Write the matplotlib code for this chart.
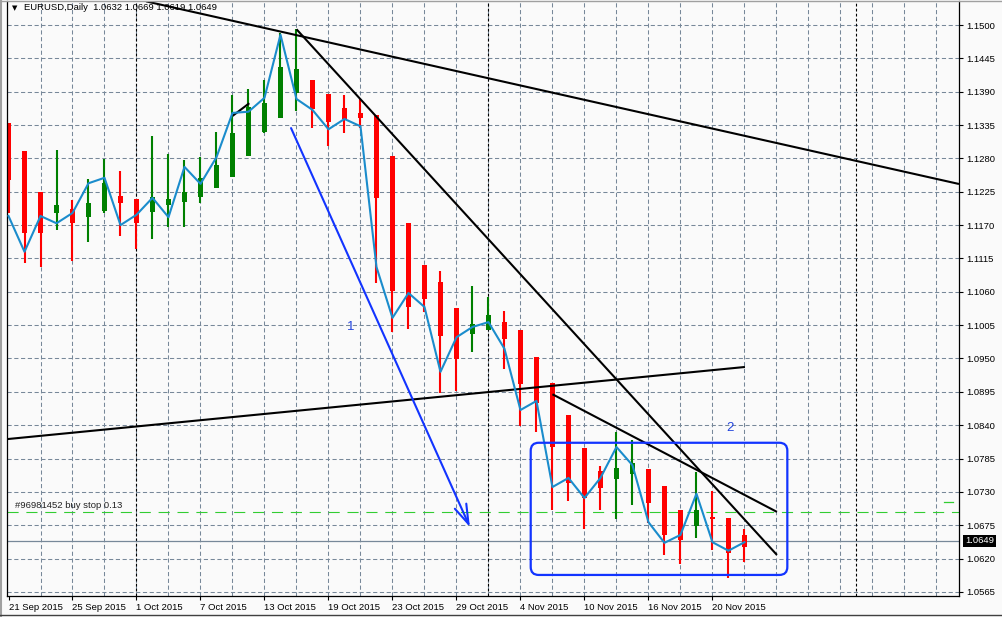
import matplotlib
matplotlib.use("Agg")
import matplotlib.pyplot as plt
import matplotlib.transforms as mtransforms
from matplotlib.patches import FancyBboxPatch

plt.rcParams["font.family"] = ["Liberation Sans", "DejaVu Sans"]

# --- data (EURUSD daily, one candle per trading day) ---
date_labels = ["21 Sep 2015", "25 Sep 2015", "1 Oct 2015", "7 Oct 2015", "13 Oct 2015",
               "19 Oct 2015", "23 Oct 2015", "29 Oct 2015", "4 Nov 2015", "10 Nov 2015",
               "16 Nov 2015", "20 Nov 2015"]
date_bars = [0, 4, 8, 12, 16, 20, 24, 28, 32, 36, 40, 44]

opens = [1.1338, 1.1292, 1.1225, 1.1190, 1.1197, 1.1183, 1.1193, 1.1218, 1.1213, 1.1192,
         1.1203, 1.1208, 1.1216, 1.1231, 1.1249, 1.1284, 1.1324, 1.1347, 1.1388, 1.1409,
         1.1386, 1.1363, 1.1355, 1.1352, 1.1284, 1.1173, 1.1104, 1.1076, 1.1033, 1.0990,
         1.0997, 1.1010, 1.0997, 1.0952, 1.0910, 1.0857, 1.0802, 1.0764, 1.0751, 1.0760,
         1.0768, 1.0740, 1.0700, 1.0674, 1.0689, 1.0687, 1.0659]
highs = [1.1338, 1.1292, 1.1225, 1.1294, 1.1211, 1.1246, 1.1279, 1.1259, 1.1213, 1.1317,
         1.1287, 1.1277, 1.1282, 1.1324, 1.1385, 1.1394, 1.1409, 1.1487, 1.1493, 1.1409,
         1.1386, 1.1385, 1.1378, 1.1352, 1.1284, 1.1173, 1.1104, 1.1094, 1.1033, 1.1070,
         1.1051, 1.1028, 1.0997, 1.0952, 1.0910, 1.0857, 1.0802, 1.0773, 1.0829, 1.0816,
         1.0768, 1.0740, 1.0700, 1.0763, 1.0731, 1.0687, 1.0669]
lows = [1.1190, 1.1108, 1.1101, 1.1162, 1.1111, 1.1142, 1.1190, 1.1152, 1.1131, 1.1147,
        1.1167, 1.1167, 1.1206, 1.1231, 1.1249, 1.1284, 1.1322, 1.1347, 1.1358, 1.1330,
        1.1300, 1.1322, 1.1330, 1.1075, 1.0994, 1.0999, 1.1027, 1.0893, 1.0896, 1.0961,
        1.0997, 1.0933, 1.0839, 1.0829, 1.0700, 1.0715, 1.0669, 1.0700, 1.0685, 1.0708,
        1.0679, 1.0626, 1.0611, 1.0654, 1.0634, 1.0588, 1.0614]
closes = [1.1244, 1.1157, 1.1157, 1.1203, 1.1173, 1.1206, 1.1239, 1.1206, 1.1173, 1.1216,
          1.1213, 1.1225, 1.1248, 1.1269, 1.1322, 1.1365, 1.1371, 1.1431, 1.1427, 1.1361,
          1.1340, 1.1345, 1.1347, 1.1215, 1.1061, 1.1035, 1.1048, 1.0987, 1.0949, 1.1007,
          1.1022, 1.0982, 1.0908, 1.0877, 1.0804, 1.0745, 1.0720, 1.0736, 1.0769, 1.0778,
          1.0712, 1.0659, 1.0651, 1.0700, 1.0685, 1.0629, 1.0639]
indicator = [1.1185, 1.1126, 1.1185, 1.1173, 1.1190, 1.1239, 1.1248, 1.1170, 1.1187, 1.1215,
             1.1183, 1.1266, 1.1238, 1.1282, 1.1355, 1.1357, 1.1380, 1.1484, 1.1378, 1.1360,
             1.1328, 1.1345, 1.1333, 1.1101, 1.1017, 1.1058, 1.1035, 1.0928, 1.0985, 1.1002,
             1.1010, 1.0966, 1.0865, 1.0880, 1.0738, 1.0753, 1.0720, 1.0753, 1.0804, 1.0774,
             1.0680, 1.0646, 1.0659, 1.0727, 1.0647, 1.0633, 1.0647]

price_ticks = [1.0565, 1.0620, 1.0675, 1.0730, 1.0785, 1.0840, 1.0895, 1.0950, 1.1005,
               1.1060, 1.1115, 1.1170, 1.1225, 1.1280, 1.1335, 1.1390, 1.1445, 1.1500]
month_starts = [8, 30, 53]
last_price = 1.0649
buy_stop = 1.0697

# trend lines drawn on the chart: (bar, price) pairs
long_line = [(8.6, 1.1539), (59.41, 1.12378)]
steep_line = [(18, 1.1493), (48.03, 1.0626)]
rising_line = [(-0.1, 1.0817), (46.03, 1.0936)]
falling_line = [(34, 1.0891), (48.03, 1.0697)]
short_line = [(14, 1.1350), (15.05, 1.1371)]
arrow_from = (17.66, 1.1330)
arrow_to = (28.84, 1.0672)
box_bars = (32.64, 48.68)
box_prices = (1.0593, 1.0811)

GRID = "#778899"
BLUE = "#1234ff"
FS = 6.8

fig = plt.figure(figsize=(10.02, 6.17), dpi=100, facecolor="#fafafa")
ax = fig.add_axes([7 / 1002, 21.5 / 617, 952 / 1002, 594.5 / 617], facecolor="#fafafa")
ax.set_xlim(-0.094, 59.41)
ax.set_ylim(1.05591, 1.15396)

# grid
for b in range(2, 60, 2):
    ax.axvline(b, color=GRID, lw=0.75, ls=(0, (4, 2.5)), zorder=0)
for p in price_ticks:
    ax.axhline(p, color=GRID, lw=0.75, ls=(0, (4, 2.5)), zorder=0)
for b in month_starts:
    ax.axvline(b, color="black", lw=0.8, ls=(0, (2.5, 2)), zorder=1)

# candles
for i, (o, h, l, c) in enumerate(zip(opens, highs, lows, closes)):
    col = "#008000" if c >= o else "#ff0000"
    ax.vlines(i, l, h, color=col, lw=1.5, zorder=2)
    ax.bar(i, max(abs(c - o), 0.00012), bottom=min(o, c), width=0.33, color=col,
           linewidth=0, zorder=2)

ax.plot(range(len(indicator)), indicator, color="#1a8ccc", lw=1.5, zorder=4)

ax.axhline(last_price, color=GRID, lw=0.9, zorder=1)
ax.axhline(buy_stop, color="#32cd32", lw=0.8, ls=(0, (10, 7)), zorder=1)
ax.plot([58.47, 59.03], [1.0714, 1.0714], color="#32cd32", lw=0.9, zorder=1)
ax.text(0.4, 1.0708, "#96981452 buy stop 0.13", fontsize=FS, va="center", ha="left",
        color="#222222", zorder=5)

for seg in (long_line, steep_line, rising_line, falling_line, short_line):
    ax.plot([seg[0][0], seg[1][0]], [seg[0][1], seg[1][1]], color="black", lw=1.5,
            zorder=3, solid_capstyle="butt")

ax.annotate("", xy=arrow_to, xytext=arrow_from,
            arrowprops=dict(arrowstyle="->,head_length=1.4,head_width=0.45", color=BLUE,
                            lw=1.5, shrinkA=0, shrinkB=0), zorder=5)

# rounded box, radius ~8 px in both directions
aspect = (0.0055 / 33.35) * 16
box = FancyBboxPatch((box_bars[0], box_prices[0]), box_bars[1] - box_bars[0],
                     box_prices[1] - box_prices[0],
                     boxstyle="round,pad=0,rounding_size=0.5", mutation_aspect=aspect,
                     fill=False, ec=BLUE, lw=1.6, zorder=5)
ax.add_patch(box)
ax.text(21.4, 1.1002, "1", color="#2244dd", fontsize=9.5, ha="center", va="center", zorder=5)
ax.text(45.1, 1.0835, "2", color="#2244dd", fontsize=9.5, ha="center", va="center", zorder=5)

# axes
for s in ("left", "right", "bottom"):
    ax.spines[s].set_color("black")
    ax.spines[s].set_linewidth(0.9)
ax.spines["top"].set_visible(False)
ax.yaxis.tick_right()
ax.set_yticks(price_ticks)
ax.set_yticklabels([f"{p:.4f}" for p in price_ticks])
ax.tick_params(axis="y", direction="out", length=3, width=0.8, pad=2, labelsize=FS,
               colors="black")
ax.set_xticks(date_bars)
ax.set_xticklabels(date_labels, ha="left")
ax.tick_params(axis="x", direction="out", length=3, width=0.8, pad=2.5, labelsize=FS)

trans = mtransforms.blended_transform_factory(ax.transAxes, ax.transData)
ax.text(1.0065, last_price, f"{last_price:.4f}", transform=trans, fontsize=FS, color="white",
        va="center", ha="left", zorder=6,
        bbox=dict(boxstyle="square,pad=0.2", fc="black", ec="none"))

fig.text(12 / 1002, 1 - 8 / 617, "\u25bc", fontsize=5, va="center", ha="left",
         family=["DejaVu Sans"])
fig.text(24 / 1002, 1 - 8 / 617, "EURUSD,Daily  1.0632 1.0669 1.0619 1.0649", fontsize=FS,
         va="center", ha="left", color="black", zorder=10)

# window frame
fig.add_artist(plt.Line2D([0, 1], [1 - 0.5 / 617] * 2, color="#a0a0a0", lw=1))
fig.add_artist(plt.Line2D([1 / 1002] * 2, [0, 1], color="#a0a0a0", lw=1.5))
fig.add_artist(plt.Line2D([0, 1], [2.5 / 617] * 2, color="#404040", lw=1))

fig.savefig("out.png", dpi=100, facecolor=fig.get_facecolor())
